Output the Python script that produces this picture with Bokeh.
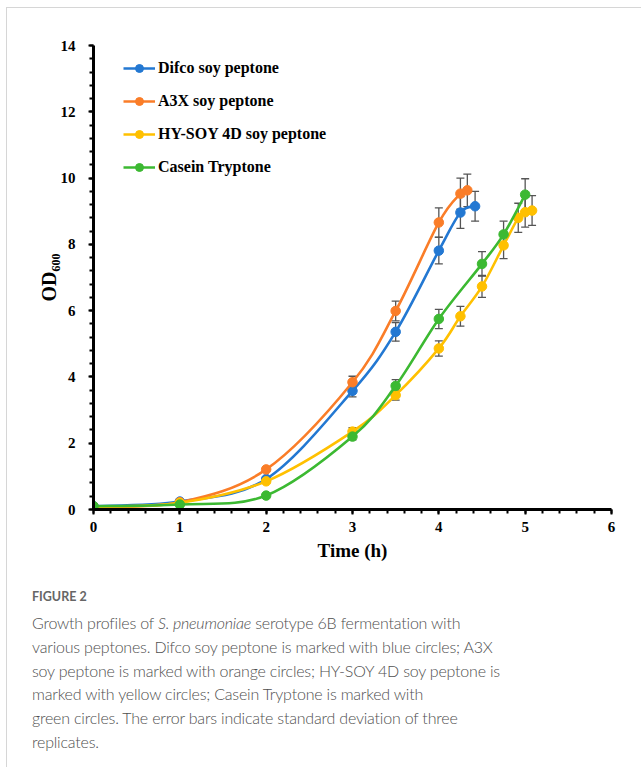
from bokeh.plotting import figure
from bokeh.models import (ColumnDataSource, Whisker, TeeHead, Legend, LegendItem,
                          SingleIntervalTicker, Range1d, Div)
from bokeh.layouts import column
from bokeh.embed import file_html
from bokeh.resources import INLINE

# ---------------- data ----------------
series_names = ["Difco soy peptone", "A3X soy peptone", "HY-SOY 4D soy peptone", "Casein Tryptone"]

time_difco = [0, 1, 2, 3, 3.5, 4, 4.25, 4.42]
od_difco = [0.10, 0.24, 0.92, 3.58, 5.36, 7.81, 8.96, 9.15]
sd_difco = [0.03, 0.04, 0.06, 0.18, 0.28, 0.40, 0.48, 0.45]

time_a3x = [0, 1, 2, 3, 3.5, 4, 4.25, 4.33]
od_a3x = [0.08, 0.22, 1.21, 3.84, 5.99, 8.66, 9.53, 9.63]
sd_a3x = [0.02, 0.04, 0.06, 0.18, 0.30, 0.44, 0.47, 0.49]

time_hysoy = [0, 1, 2, 3, 3.5, 4, 4.25, 4.5, 4.75, 4.92, 5.0, 5.08]
od_hysoy = [0.08, 0.20, 0.85, 2.35, 3.45, 4.86, 5.83, 6.73, 7.97, 8.80, 8.97, 9.02]
sd_hysoy = [0.02, 0.03, 0.05, 0.12, 0.15, 0.23, 0.30, 0.33, 0.40, 0.44, 0.45, 0.45]

time_casein = [0, 1, 2, 3, 3.5, 4, 4.5, 4.75, 5.0]
od_casein = [0.10, 0.15, 0.42, 2.20, 3.73, 5.75, 7.41, 8.30, 9.50]
sd_casein = [0.02, 0.03, 0.04, 0.10, 0.19, 0.29, 0.37, 0.40, 0.48]

colors = ["#2378d2", "#fa7d28", "#ffc000", "#3cb932"]

x_ticks_interval = 1
y_ticks_interval = 2

caption_title = "FIGURE 2"
caption_lines = [
    "Growth profiles of <i>S. pneumoniae</i> serotype 6B fermentation with",
    "various peptones. Difco soy peptone is marked with blue circles; A3X",
    "soy peptone is marked with orange circles; HY-SOY 4D soy peptone is",
    "marked with yellow circles; Casein Tryptone is marked with",
    "green circles. The error bars indicate standard deviation of three",
    "replicates.",
]

all_series = [
    (time_difco, od_difco, sd_difco),
    (time_a3x, od_a3x, sd_a3x),
    (time_hysoy, od_hysoy, sd_hysoy),
    (time_casein, od_casein, sd_casein),
]


def smooth_segments(xs, ys):
    """Cubic Bezier segments through the data points (Catmull-Rom style smoothing)."""
    n = len(xs)
    out = dict(x0=[], y0=[], x1=[], y1=[], cx0=[], cy0=[], cx1=[], cy1=[])
    for i in range(n - 1):
        a = i - 1 if i > 0 else i
        d = i + 2 if i + 2 < n else i + 1
        out["x0"].append(xs[i]); out["y0"].append(ys[i])
        out["x1"].append(xs[i + 1]); out["y1"].append(ys[i + 1])
        out["cx0"].append(xs[i] + (xs[i + 1] - xs[a]) / 6.0)
        out["cy0"].append(ys[i] + (ys[i + 1] - ys[a]) / 6.0)
        out["cx1"].append(xs[i + 1] - (xs[d] - xs[i]) / 6.0)
        out["cy1"].append(ys[i + 1] - (ys[d] - ys[i]) / 6.0)
    return out


FW = 634
FH = 567

p = figure(width=FW, height=FH, output_backend="svg", toolbar_location=None,
           x_range=Range1d(0, 6), y_range=Range1d(0, 14),
           min_border_left=86, min_border_right=30, min_border_top=37, min_border_bottom=66)
p.xgrid.visible = False
p.ygrid.visible = False
p.outline_line_color = None
p.background_fill_color = "white"
p.border_fill_color = "white"

p.xaxis.ticker = SingleIntervalTicker(interval=x_ticks_interval, num_minor_ticks=5)
p.yaxis.ticker = SingleIntervalTicker(interval=y_ticks_interval, num_minor_ticks=5)

for ax in (p.xaxis[0], p.yaxis[0]):
    ax.axis_line_width = 3
    ax.axis_line_color = "black"
    ax.major_tick_line_color = "black"
    ax.major_tick_line_width = 2
    ax.minor_tick_line_color = "black"
    ax.minor_tick_line_width = 2
    ax.major_tick_in = 0
    ax.major_tick_out = 5
    ax.minor_tick_in = 0
    ax.minor_tick_out = 4
    ax.major_label_text_font = "Liberation Serif"
    ax.major_label_text_font_style = "bold"
    ax.major_label_text_font_size = "15px"
    ax.major_label_text_color = "black"
    ax.axis_label_text_font = "Liberation Serif"
    ax.axis_label_text_font_style = "bold"
    ax.axis_label_text_color = "black"

p.xaxis.axis_label = "Time (h)"
p.yaxis.axis_label = "OD\u2086\u2080\u2080"
p.xaxis.axis_label_text_font_size = "19px"
p.yaxis.axis_label_text_font_size = "20px"
p.xaxis.major_label_standoff = 7
p.yaxis.major_label_standoff = 13
p.xaxis.axis_label_standoff = 5
p.yaxis.axis_label_standoff = -2

legend_items = []
for (xs, ys, sds), col, name in zip(all_series, colors, series_names):
    src = ColumnDataSource(dict(x=xs, y=ys,
                                lo=[y - s for y, s in zip(ys, sds)],
                                hi=[y + s for y, s in zip(ys, sds)]))
    w = Whisker(base="x", lower="lo", upper="hi", source=src,
                line_color="#555555", line_width=1.3,
                upper_head=TeeHead(size=8, line_color="#555555", line_width=1.3),
                lower_head=TeeHead(size=8, line_color="#555555", line_width=1.3))
    p.add_layout(w)
    seg = ColumnDataSource(smooth_segments(xs, ys))
    bz = p.bezier(x0="x0", y0="y0", x1="x1", y1="y1", cx0="cx0", cy0="cy0", cx1="cx1", cy1="cy1",
                  source=seg, line_color=col, line_width=2.6)
    sc = p.scatter("x", "y", source=src, size=9.5, fill_color=col, line_color=col)
    legend_items.append(LegendItem(label=name, renderers=[bz, sc]))

legend = Legend(items=legend_items, location=(30, 332),
                label_text_font="Liberation Serif", label_text_font_style="bold",
                label_text_font_size="16px", label_text_color="black",
                glyph_width=32, glyph_height=20, label_height=20, label_standoff=3,
                spacing=13, padding=0, margin=0,
                border_line_color=None, background_fill_alpha=0)
p.add_layout(legend)

caption_html = (
    '<div style="font-family: Lato, \'Open Sans\', sans-serif; color:#4f4f4f; '
    'padding-left:25px; padding-top:12px; width:600px;">'
    '<div style="font-size:12.5px; line-height:20px; font-weight:700; color:#666666;">'
    + caption_title + '</div>'
    '<div style="font-size:16px; line-height:23.8px; margin-top:4px; font-weight:300; '
    'letter-spacing:-0.2px;">'
    + "<br>".join(caption_lines) + '</div></div>'
)
cap = Div(text=caption_html, width=FW, height=192, margin=0)

root = column(p, cap, margin=(7, 0, 0, 6), spacing=0,
              styles={"border-left": "1px solid #d6d6d6", "border-top": "1px solid #d6d6d6"})

open("out.html", "w").write(file_html(root, INLINE))
